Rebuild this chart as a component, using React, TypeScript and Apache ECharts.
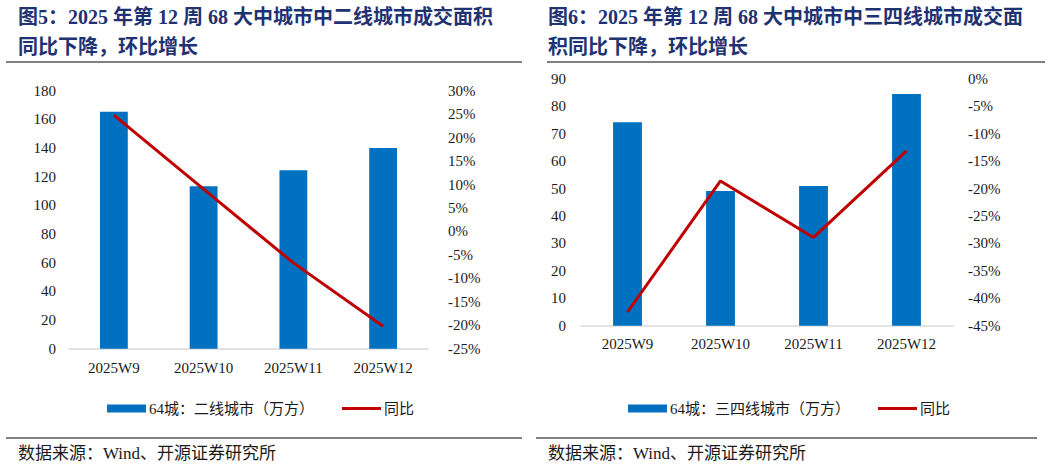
import React, { useEffect, useRef } from "react";
import * as echarts from "echarts";

const categories = ["2025W9", "2025W10", "2025W11", "2025W12"];
const tier2Area = [165.4, 113.3, 124.5, 140.0];
const tier2Yoy = [24.8, 9.0, -6.7, -20.2];
const tier34Area = [74.2, 49.1, 51.0, 84.5];
const tier34Yoy = [-42.5, -18.6, -28.9, -13.1];

const leftTitle1 = "图5：2025 年第 12 周 68 大中城市中二线城市成交面积";
const leftTitle2 = "同比下降，环比增长";
const rightTitle1 = "图6：2025 年第 12 周 68 大中城市中三四线城市成交面";
const rightTitle2 = "积同比下降，环比增长";
const sourceText = "数据来源：Wind、开源证券研究所";
const tier2Name = "64城：二线城市（万方）";
const tier34Name = "64城：三四线城市（万方）";
const yoyName = "同比";

const SERIF = "'Liberation Serif', 'Times New Roman', 'Noto Sans CJK SC', serif";
const TITLE_FONT = "'Liberation Serif', 'Noto Sans CJK SC', serif";
const BLUE = "#0070C0";
const RED = "#C00000";
const TEXT = "#1a1a1a";
const TITLE_COLOR = "#1F3272";
const RULE = "#595959";
const LINE_ICON = "path://M0,0 L39,0 L39,3.2 L0,3.2 Z";

export default function App() {
  const ref = useRef<HTMLDivElement>(null);

  useEffect(() => {
    if (!ref.current) return;
    const chart = echarts.init(ref.current, undefined, { renderer: "svg" });

    const axisLabel = { color: TEXT, fontSize: 15, fontFamily: SERIF };

    const titleText = (x: number, y: number, text: string) => ({
      type: "text",
      x,
      y,
      style: {
        text,
        fill: TITLE_COLOR,
        font: `bold 20px ${TITLE_FONT}`,
        textVerticalAlign: "middle",
      },
    });
    const rule = (x1: number, x2: number, y: number) => ({
      type: "line",
      shape: { x1, y1: y, x2, y2: y },
      style: { stroke: RULE, lineWidth: 1.6 },
    });
    const source = (x: number, y: number) => ({
      type: "text",
      x,
      y,
      style: {
        text: sourceText,
        fill: TEXT,
        font: `17px ${SERIF}`,
        textVerticalAlign: "middle",
      },
    });

    const legendBase = {
      top: 396,
      itemWidth: 39,
      itemHeight: 8,
      itemGap: 28,
      textStyle: { color: TEXT, fontSize: 15, fontFamily: SERIF, padding: [0, 0, 0, -2] },
      selectedMode: false,
    };

    const option: any = {
      animation: false,
      grid: [
        { left: 69, top: 90.7, width: 359, height: 258 },
        { left: 581, top: 79, width: 372, height: 246.7 },
      ],
      xAxis: [
        {
          type: "category",
          gridIndex: 0,
          data: categories,
          axisLine: { lineStyle: { color: "#D9D9D9", width: 1.5 } },
          axisTick: { show: false },
          axisLabel: { ...axisLabel, margin: 12 },
        },
        {
          type: "category",
          gridIndex: 1,
          data: categories,
          axisLine: { lineStyle: { color: "#D9D9D9", width: 1.5 } },
          axisTick: { show: false },
          axisLabel: { ...axisLabel, margin: 11 },
        },
      ],
      yAxis: [
        {
          type: "value",
          gridIndex: 0,
          min: 0,
          max: 180,
          interval: 20,
          splitLine: { show: false },
          axisLine: { show: false },
          axisTick: { show: false },
          axisLabel: { ...axisLabel, margin: 13 },
        },
        {
          type: "value",
          gridIndex: 0,
          position: "right",
          min: -25,
          max: 30,
          interval: 5,
          splitLine: { show: false },
          axisLine: { show: false },
          axisTick: { show: false },
          axisLabel: { ...axisLabel, margin: 20, formatter: "{value}%" },
        },
        {
          type: "value",
          gridIndex: 1,
          min: 0,
          max: 90,
          interval: 10,
          splitLine: { show: false },
          axisLine: { show: false },
          axisTick: { show: false },
          axisLabel: { ...axisLabel, margin: 15 },
        },
        {
          type: "value",
          gridIndex: 1,
          position: "right",
          min: -45,
          max: 0,
          interval: 5,
          splitLine: { show: false },
          axisLine: { show: false },
          axisTick: { show: false },
          axisLabel: { ...axisLabel, margin: 15, formatter: "{value}%" },
        },
      ],
      legend: [
        {
          ...legendBase,
          left: 102,
          data: [{ name: tier2Name, icon: "rect" }, { name: yoyName, icon: LINE_ICON }],
        },
        {
          ...legendBase,
          left: 623,
          data: [{ name: tier34Name, icon: "rect" }, { name: yoyName, icon: LINE_ICON }],
        },
      ],
      series: [
        {
          name: tier2Name,
          type: "bar",
          xAxisIndex: 0,
          yAxisIndex: 0,
          data: tier2Area,
          barWidth: "31%",
          itemStyle: { color: BLUE },
        },
        {
          name: yoyName,
          type: "line",
          xAxisIndex: 0,
          yAxisIndex: 1,
          data: tier2Yoy,
          symbol: "none",
          lineStyle: { color: RED, width: 3 },
          itemStyle: { color: RED },
        },
        {
          name: tier34Name,
          type: "bar",
          xAxisIndex: 1,
          yAxisIndex: 2,
          data: tier34Area,
          barWidth: "31%",
          itemStyle: { color: BLUE },
        },
        {
          name: yoyName,
          type: "line",
          xAxisIndex: 1,
          yAxisIndex: 3,
          data: tier34Yoy,
          symbol: "none",
          lineStyle: { color: RED, width: 3 },
          itemStyle: { color: RED },
        },
      ],
      graphic: [
        titleText(18, 17, leftTitle1),
        titleText(18, 47, leftTitle2),
        titleText(548, 17, rightTitle1),
        titleText(548, 47, rightTitle2),
        rule(6, 522, 62),
        rule(547, 1045, 62),
        rule(6, 522, 438),
        rule(536, 1037, 438),
        source(18, 453),
        source(548, 453),
      ],
    };

    chart.setOption(option);
    return () => chart.dispose();
  }, []);

  return (
    <div
      ref={ref}
      style={{ position: "fixed", left: 0, top: 0, width: 1057, height: 467, background: "#fff" }}
    />
  );
}
